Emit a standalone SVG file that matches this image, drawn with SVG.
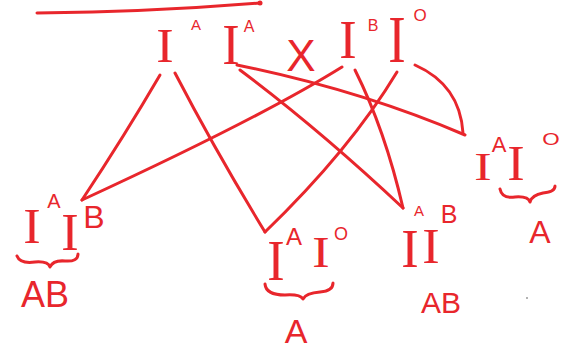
<svg xmlns="http://www.w3.org/2000/svg" width="575" height="351" viewBox="0 0 575 351">
  <style>
    .ink { fill: none; stroke: #e8262c; stroke-width: 3; stroke-linecap: round; stroke-linejoin: round; }
    .gene { font-family: "Liberation Serif", "DejaVu Serif", serif; font-size: 36px; fill: #e8262c; text-anchor: middle; }
    .sup { font-family: "Liberation Sans", "DejaVu Sans", sans-serif; fill: #e8262c; text-anchor: middle; }
    .lbl { font-family: "Liberation Sans", "DejaVu Sans", sans-serif; fill: #e8262c; text-anchor: middle; }
  </style>
  <rect width="575" height="351" fill="#ffffff"/>

  <!-- heading underline -->
  <path class="ink" d="M37,13 Q150,12 260,3"/>
  <circle cx="260" cy="3" r="2.5" fill="#e8262c"/>

  <!-- connectors: each parental allele to the offspring that receive it -->
  <g id="connectors">
    <path class="ink" d="M160,75 Q125,135 82,200"/>
    <path class="ink" d="M175,73 Q215,150 265,232"/>
    <path class="ink" d="M342,67 Q260,118 82,200"/>
    <path class="ink" d="M397,72 Q350,150 265,232"/>
    <path class="ink" d="M237,65 Q360,90 465,135"/>
    <path class="ink" d="M240,70 Q320,130 403,208"/>
    <path class="ink" d="M355,70 Q385,130 403,208"/>
    <path class="ink" d="M415,65 Q460,85 463,133"/>
  </g>

  <!-- parent 1: IA IA -->
  <g id="parent-aa">
    <text class="gene" transform="translate(165,62) scale(1.45,1.34)">I</text>
    <text class="sup" x="196" y="30" font-size="15">A</text>
    <text class="gene" transform="translate(231,64) scale(1.45,1.6)">I</text>
    <text class="sup" x="249" y="32" font-size="16">A</text>
  </g>

  <!-- cross sign -->
  <g id="cross">
    <text class="lbl" x="301" y="71" font-size="44">X</text>
  </g>

  <!-- parent 2: IB IO -->
  <g id="parent-bo">
    <text class="gene" transform="translate(348,58) scale(1.45,1.55)">I</text>
    <text class="sup" x="373" y="31" font-size="16">B</text>
    <text class="gene" transform="translate(397,62) scale(1.45,1.9)">I</text>
    <text class="sup" x="420" y="21" font-size="17">O</text>
  </g>

  <!-- offspring: IA IB -> AB -->
  <g id="child-ab-left">
    <text class="gene" transform="translate(32,243) scale(1.45,1.39)">I</text>
    <text class="sup" x="54" y="208" font-size="20">A</text>
    <text class="gene" transform="translate(70,250) scale(1.45,1.47)">I</text>
    <text class="sup" x="94" y="228" font-size="32">B</text>
    <path class="ink" d="M17,256 Q20,264 35,262 Q48,261 50,267 Q53,260 65,261 Q78,262 78,254"/>
    <text class="lbl" x="45" y="307" font-size="36">AB</text>
  </g>

  <!-- offspring: IA IO -> A -->
  <g id="child-a-middle">
    <text class="gene" transform="translate(276,280) scale(1.45,1.6)">I</text>
    <text class="sup" x="294" y="245" font-size="24">A</text>
    <text class="gene" transform="translate(321,267) scale(1.45,1.22)">I</text>
    <text class="sup" x="341" y="240" font-size="18">O</text>
    <path class="ink" d="M265,284 Q266,295 285,295 Q300,294 303,299 Q306,293 320,292 Q333,291 333,283"/>
    <text class="lbl" x="296" y="343" font-size="34">A</text>
  </g>

  <!-- offspring: IA IB -> AB -->
  <g id="child-ab-right">
    <text class="gene" transform="translate(410,267) scale(1.45,1.55)">I</text>
    <text class="sup" x="419" y="216" font-size="15">A</text>
    <text class="gene" transform="translate(431,263) scale(1.45,1.39)">I</text>
    <text class="sup" x="449" y="223" font-size="25">B</text>
    <text class="lbl" x="441" y="313" font-size="30">AB</text>
  </g>

  <!-- offspring: IA IO -> A -->
  <g id="child-a-right">
    <text class="gene" transform="translate(483,180) scale(1.45,1.13)">I</text>
    <text class="sup" x="499" y="152" font-size="22">A</text>
    <text class="gene" transform="translate(516,180) scale(1.45,1.39)">I</text>
    <text class="sup" transform="translate(551,145) scale(1.4,1)" font-size="16">O</text>
    <path class="ink" d="M500,189 Q502,199 515,197 Q528,196 530,202 Q532,195 543,193 Q555,192 555,186"/>
    <text class="lbl" x="540" y="243" font-size="32">A</text>
  </g>

  <circle cx="527" cy="298" r="1" fill="#9a9a9a"/>
</svg>
